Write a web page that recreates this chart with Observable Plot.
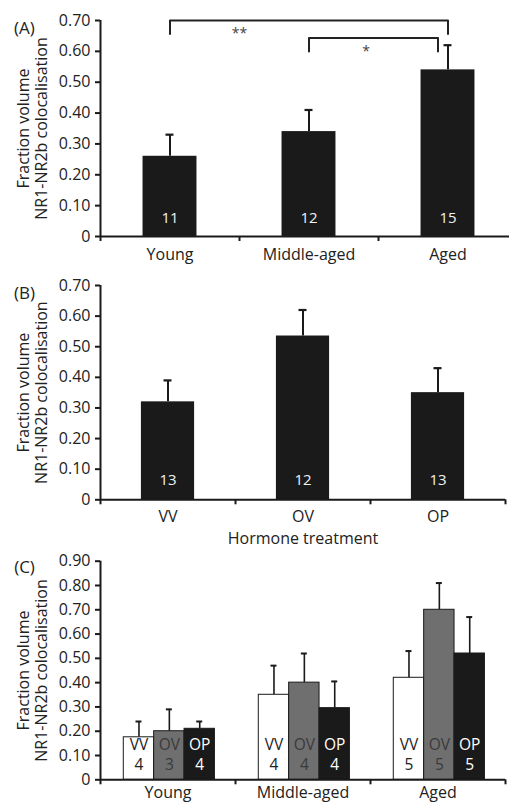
<!DOCTYPE html>
<html>
<head>
<meta charset="utf-8">
<script src="https://cdn.jsdelivr.net/npm/d3@7"></script>
<script src="https://cdn.jsdelivr.net/npm/@observablehq/plot@0.6"></script>
<style>
  body { margin: 0; background: #fff; }
  svg { display: block; }
</style>
</head>
<body>
<div id="chart"></div>
<script>
// ---------- DATA ----------
// Panel A: age groups
const ageGroups = ["Young", "Middle-aged", "Aged"];
const ageMeans = [0.26, 0.34, 0.54];
const ageUpper = [0.33, 0.41, 0.62];   // top of error bars
const ageN = [11, 12, 15];

// significance comparisons in panel A
const compFrom = ["Young", "Middle-aged"];
const compTo = ["Aged", "Aged"];
const compLevel = [0.70, 0.643];
const compLabel = ["**", "*"];

// Panel B: hormone treatment
const hormoneGroups = ["VV", "OV", "OP"];
const hormoneMeans = [0.32, 0.535, 0.35];
const hormoneUpper = [0.39, 0.62, 0.43];
const hormoneN = [13, 12, 13];
const hormoneTitle = "Hormone treatment";

// Panel C: age x hormone
const treatments = ["VV", "OV", "OP"];
const vvMeans = [0.175, 0.35, 0.42];
const vvUpper = [0.24, 0.47, 0.53];
const vvN = [4, 4, 5];
const ovMeans = [0.20, 0.40, 0.70];
const ovUpper = [0.29, 0.52, 0.81];
const ovN = [3, 4, 5];
const opMeans = [0.21, 0.295, 0.52];
const opUpper = [0.24, 0.405, 0.67];
const opN = [4, 4, 5];

// tick values
const yTicksAB = [0, 0.1, 0.2, 0.3, 0.4, 0.5, 0.6, 0.7];
const yTicksC = [0, 0.1, 0.2, 0.3, 0.4, 0.5, 0.6, 0.7, 0.8, 0.9];
const yTitle = "Fraction volume\nNR1-NR2b colocalisation";

// ---------- DRAWING ----------
const W = 509;
const FONT = "'Open Sans', 'DejaVu Sans', sans-serif";
const INK = "#1a1a1a";
const fmt = d => d === 0 ? "0" : d.toFixed(2);

function panel({height, marginTop, marginBottom, xEnd, yMax, yTicks, letter, letterDy, marks}) {
  return Plot.plot({
    width: W, height,
    marginLeft: 100, marginRight: 0, marginTop, marginBottom,
    style: {fontFamily: FONT, fontSize: "16px", color: "#222", background: "white", overflow: "visible"},
    x: {domain: [-0.5, 2.5], range: [100, xEnd], axis: null},
    y: {domain: [0, yMax], axis: null},
    marks: [
      ...marks,
      Plot.axisY({ticks: yTicks, tickFormat: fmt, tickSize: 5, tickPadding: 5, strokeWidth: 2, stroke: INK, fontSize: 16, label: null}),
      Plot.axisX({ticks: [-0.5, 0.5, 1.5, 2.5], tickSize: 5, tickFormat: () => "", strokeWidth: 2, stroke: INK, label: null}),
      Plot.ruleX([-0.5], {y1: 0, y2: yMax, strokeWidth: 2, stroke: INK}),
      Plot.ruleY([0], {x1: -0.5, x2: 2.5, strokeWidth: 2, stroke: INK}),
      Plot.text([letter], {frameAnchor: "top-left", textAnchor: "middle", dx: -76, dy: letterDy, fontSize: 17, fill: "#222"}),
      Plot.text([yTitle], {frameAnchor: "left", textAnchor: "middle", lineAnchor: "middle", rotate: -90, dx: -68, fontSize: 16, lineHeight: 1.08, fill: "#222"})
    ]
  });
}

function simpleBars(groups, means, upper, ns, barW, capPx, pxPerUnit, numDy) {
  const data = groups.map((g, i) => ({g, i, mean: means[i], upper: upper[i], n: ns[i]}));
  const cap = capPx / pxPerUnit;
  return {data, marks: [
    Plot.rect(data, {x1: d => d.i - barW / 2, x2: d => d.i + barW / 2, y1: 0, y2: "mean", fill: INK}),
    Plot.ruleX(data, {x: "i", y1: "mean", y2: "upper", strokeWidth: 2, stroke: INK}),
    Plot.ruleY(data, {y: "upper", x1: d => d.i - cap, x2: d => d.i + cap, strokeWidth: 2.2, stroke: INK}),
    Plot.text(data, {x: "i", y: 0, text: "n", dy: numDy, fill: "#f2f2f2", fontSize: 15})
  ]};
}

// Panel A
const pxA = 139;
const A = simpleBars(ageGroups, ageMeans, ageUpper, ageN, 0.388, 4, pxA, -18);
const legPx = 13.5;
const yPerPxA = 0.7 / 216;
const bracketPts = [];
const starData = [];
const starX = [0.5, 1.41];
const usedEnds = {};
compFrom.forEach((f, k) => {
  const a = ageGroups.indexOf(f);
  const bName = compTo[k];
  let b = ageGroups.indexOf(bName);
  if (usedEnds[bName]) b -= 10 / pxA;   // nested bracket sits inside the outer one
  usedEnds[bName] = true;
  const lv = compLevel[k];
  const leg = legPx * yPerPxA;
  bracketPts.push({k, x: a, y: lv - leg}, {k, x: a, y: lv}, {k, x: b, y: lv}, {k, x: b, y: lv - leg});
  starData.push({x: starX[k], y: lv, label: compLabel[k], k});
});

const svgA = panel({
  height: 270, marginTop: 20, marginBottom: 34, xEnd: 517, yMax: 0.7, yTicks: yTicksAB,
  letter: "(A)", letterDy: 1.5,
  marks: [
    ...A.marks,
    Plot.line(bracketPts, {x: "x", y: "y", z: "k", stroke: "#222", strokeWidth: 2, strokeLinejoin: "round", curve: "linear"}),
    Plot.text(starData, {x: "x", y: "y", text: "label", fontSize: 14, fill: "#444", dy: 13.5}),
    Plot.text(A.data, {x: "i", y: 0, text: "g", dy: 18, fontSize: 16, fill: "#222"})
  ]
});

// Panel B
const pxB = 135;
const B = simpleBars(hormoneGroups, hormoneMeans, hormoneUpper, hormoneN, 0.394, 4, pxB, -19.3);
const svgB = panel({
  height: 280, marginTop: 15, marginBottom: 50.7, xEnd: 505, yMax: 0.7, yTicks: yTicksAB,
  letter: "(B)", letterDy: 1,
  marks: [
    ...B.marks,
    Plot.text(B.data, {x: "i", y: 0, text: "g", dy: 17.4, fontSize: 16, fill: "#222"}),
    Plot.text([hormoneTitle], {x: 1, y: 0, dy: 39, fontSize: 16, fill: "#222"})
  ]
});

// Panel C
const pxC = 135;
const subW = 0.225;
const cMeans = [vvMeans, ovMeans, opMeans];
const cUpper = [vvUpper, ovUpper, opUpper];
const cN = [vvN, ovN, opN];
const cFill = ["#ffffff", "#6f6f6f", INK];
const cText = ["#222222", "#3a3a3a", "#ffffff"];
const cData = [];
treatments.forEach((t, j) => {
  ageGroups.forEach((g, i) => {
    const cx = i + 0.01 + (j - 1) * subW;
    cData.push({t, g, i, j, cx, mean: cMeans[j][i], upper: cUpper[j][i], n: cN[j][i],
                label: t + "\n" + cN[j][i], fill: cFill[j], tfill: cText[j]});
  });
});
const capC = 3 / pxC;
const svgC = panel({
  height: 256, marginTop: 10.7, marginBottom: 26.7, xEnd: 505, yMax: 0.9, yTicks: yTicksC,
  letter: "(C)", letterDy: 0,
  marks: [
    Plot.ruleX(cData, {x: "cx", y1: "mean", y2: "upper", strokeWidth: 1.6, stroke: INK}),
    Plot.ruleY(cData, {y: "upper", x1: d => d.cx - capC, x2: d => d.cx + capC, strokeWidth: 2, stroke: INK}),
    Plot.rect(cData, {x1: d => d.cx - subW / 2, x2: d => d.cx + subW / 2, y1: 0, y2: "mean", fill: d => d.fill, stroke: INK, strokeWidth: 1}),
    Plot.text(cData, {x: "cx", y: 0, text: "label", dy: -26, fontSize: 15.5, lineHeight: 1.3, fill: d => d.tfill}),
    Plot.text(ageGroups.map((g, i) => ({g, i})), {x: "i", y: 0, text: "g", dy: 13, fontSize: 16, fill: "#222"})
  ]
});

const root = document.getElementById("chart");
root.append(svgA, svgB, svgC);
</script>
</body>
</html>
